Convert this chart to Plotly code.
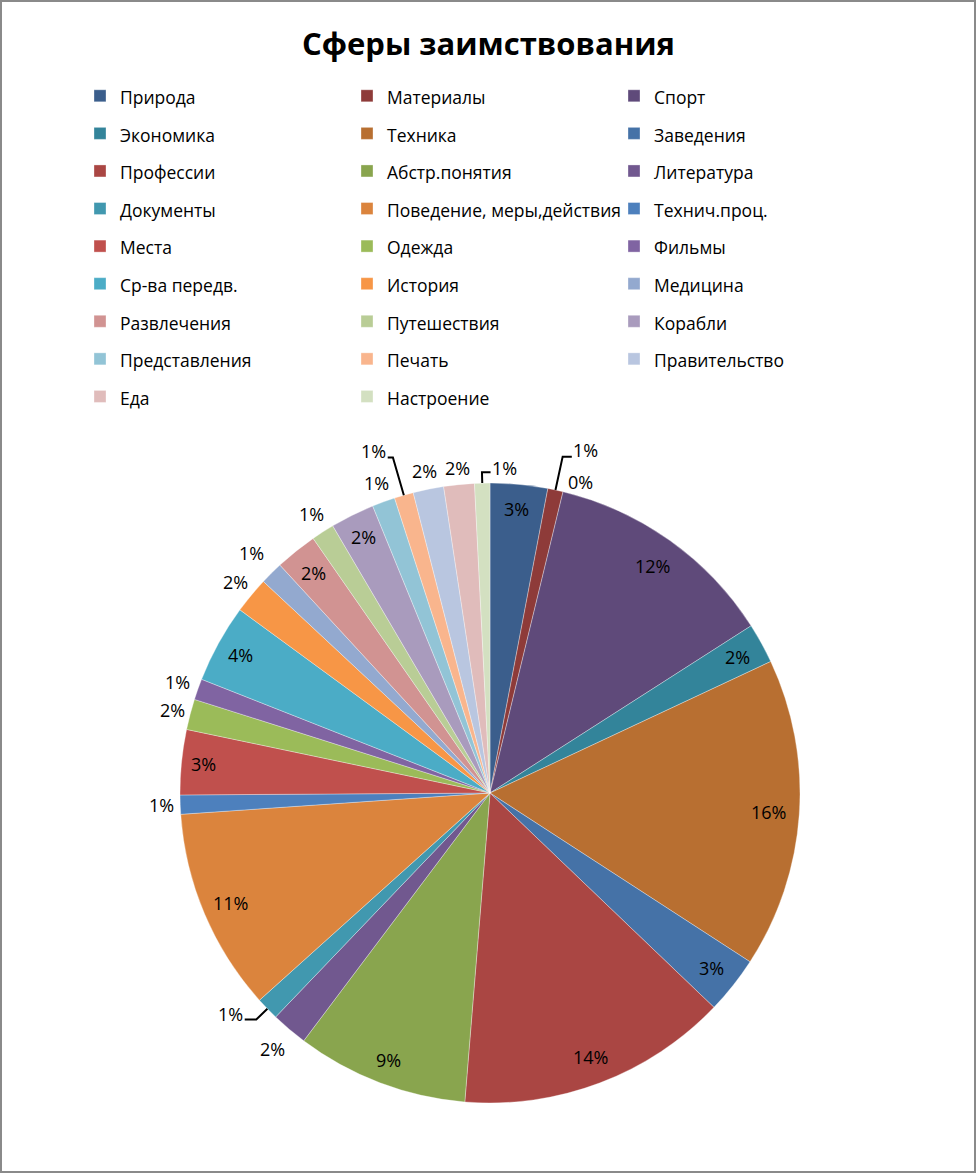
import math
import plotly.graph_objects as go

# ---------------- data ----------------
title_text = "Сферы заимствования"
categories = [
    "Природа", "Материалы", "Спорт", "Экономика", "Техника", "Заведения",
    "Профессии", "Абстр.понятия", "Литература", "Документы",
    "Поведение, меры,действия", "Технич.проц.", "Места", "Одежда", "Фильмы",
    "Ср-ва передв.", "История", "Медицина", "Развлечения", "Путешествия",
    "Корабли", "Представления", "Печать", "Правительство", "Еда", "Настроение",
]
values = [3.0, 0.8, 12.2, 2.1, 16.2, 3.0, 14.2, 9.0, 1.9, 1.2, 10.6, 1.0, 3.4,
          1.6, 1.1, 4.1, 1.9, 1.2, 2.2, 1.2, 2.3, 1.2, 1.0, 1.6, 1.6, 0.8]
zero_label = "0%"           # label of an empty category shown after "Материалы"
zero_after = "Материалы"

# ---------------- style ----------------
colors = [
    "#3B5E8C", "#8E3B39", "#5F4A7A", "#33849A", "#B86F31", "#4572A7",
    "#AA4643", "#89A54E", "#71588F", "#4198AF", "#DB843D", "#4D80BD",
    "#C0504D", "#9BBB59", "#8064A2", "#4BACC6", "#F79646", "#93A9CF",
    "#D19392", "#B9CD96", "#A99BBD", "#92C4D6", "#F9B58D", "#B9C6E0",
    "#E0BCBB", "#D3E0C1",
]
# label placement: radial factor (of radius), angle shift (deg), leader elbow factor (0 = no leader)
label_r = [0.92, 1.15, 0.90, 0.91, 0.90, 0.91, 0.91, 0.92, 1.085, 1.10, 0.91, 1.06, 0.93,
           1.06, 1.07, 0.92, 1.065, 1.09, 0.91, 1.07, 0.92, 1.065, 1.165, 1.06, 1.055, 1.05]
label_da = [0, 3.4, 0, 0, 0, 0, 0, 0, 0, 3.6, 0, 0, 0,
            0, 0, 0, 0, 0, 0, 0, 0, 0, -2.65, 0, 0, 4.0]
leader_r = [0, 1.11, 0, 0, 0, 0, 0, 0, 0, 1.05, 0, 0, 0,
            0, 0, 0, 0, 0, 0, 0, 0, 0, 1.127, 0, 0, 1.035]

W, H = 977, 1174
CX, CY, R = 490, 793, 310
FONT = "Open Sans"
LBL_SIZE = 18
LEG_SIZE = 17.5


def px(x):
    return x / W


def py(y):
    return 1 - y / H


fig = go.Figure()
fig.add_trace(go.Pie(
    labels=[f'<span style="font-size:{LEG_SIZE}px;baseline-shift:2px">{c}</span>' for c in categories],
    values=values,
    sort=False,
    direction="clockwise",
    rotation=0,
    marker=dict(colors=colors, line=dict(color="rgba(255,255,255,0.55)", width=0.6)),
    textinfo="none",
    hoverinfo="label+percent",
    domain=dict(x=[px(CX - R), px(CX + R)], y=[py(CY + R), py(CY - R)]),
    showlegend=True,
))

total = sum(values)
annotations = []
shapes = []
cum = 0.0
half_w = 13
for i, v in enumerate(values):
    a0 = cum / total * 360
    cum += v
    a1 = cum / total * 360
    mid = (a0 + a1) / 2
    pct = int(math.floor(v / total * 100 + 0.5))
    ang = math.radians(mid + label_da[i])
    tx = CX + label_r[i] * R * math.sin(ang)
    ty = CY - label_r[i] * R * math.cos(ang)
    annotations.append(dict(
        x=px(tx), y=py(ty), xref="paper", yref="paper", text=f"{pct}%",
        showarrow=False, xanchor="center", yanchor="middle",
        font=dict(family=FONT, size=LBL_SIZE, color="#000000"),
    ))
    if leader_r[i] > 0:
        m = math.radians(mid)
        sx = CX + R * math.sin(m)
        sy = CY - R * math.cos(m)
        ex = CX + leader_r[i] * R * math.sin(m)
        ey = CY - leader_r[i] * R * math.cos(m)
        hx = tx - half_w - 1 if tx > ex else tx + half_w + 1
        shapes.append(dict(
            type="path", xref="paper", yref="paper",
            path=f"M {px(sx)},{py(sy)} L {px(ex)},{py(ey)} L {px(hx)},{py(ey)}",
            line=dict(color="#000000", width=2),
        ))
    if categories[i] == zero_after:
        za = math.radians(a1 + 2.6)
        zx = CX + 1.045 * R * math.sin(za)
        zy = CY - 1.045 * R * math.cos(za)
        annotations.append(dict(
            x=px(zx), y=py(zy), xref="paper", yref="paper", text=zero_label,
            showarrow=False, xanchor="center", yanchor="middle",
            font=dict(family=FONT, size=LBL_SIZE, color="#000000"),
        ))

# chart border
shapes.append(dict(type="rect", xref="paper", yref="paper",
                   x0=px(1), x1=px(975), y0=py(1172), y1=py(1),
                   line=dict(color="#8A8A8A", width=2), fillcolor="rgba(0,0,0,0)"))

fig.update_layout(
    width=W, height=H,
    margin=dict(l=0, r=0, t=0, b=0),
    paper_bgcolor="#FFFFFF",
    title=dict(text=f"<b>{title_text}</b>", x=0.5, xanchor="center",
               y=py(44), yanchor="middle", yref="container",
               font=dict(family=FONT, size=31, color="#000000")),
    legend=dict(
        orientation="h", x=px(80), xanchor="left", y=py(72), yanchor="top",
        entrywidth=222, entrywidthmode="pixels",
        font=dict(family=FONT, size=26.6, color="#000000"),
        traceorder="normal", itemclick=False, itemdoubleclick=False,
    ),
    annotations=annotations,
    shapes=shapes,
)

fig.write_html(
    "out.html",
    config={"displayModeBar": False},
    post_script="document.body.style.margin='0px';document.body.style.overflow='hidden';",
)
